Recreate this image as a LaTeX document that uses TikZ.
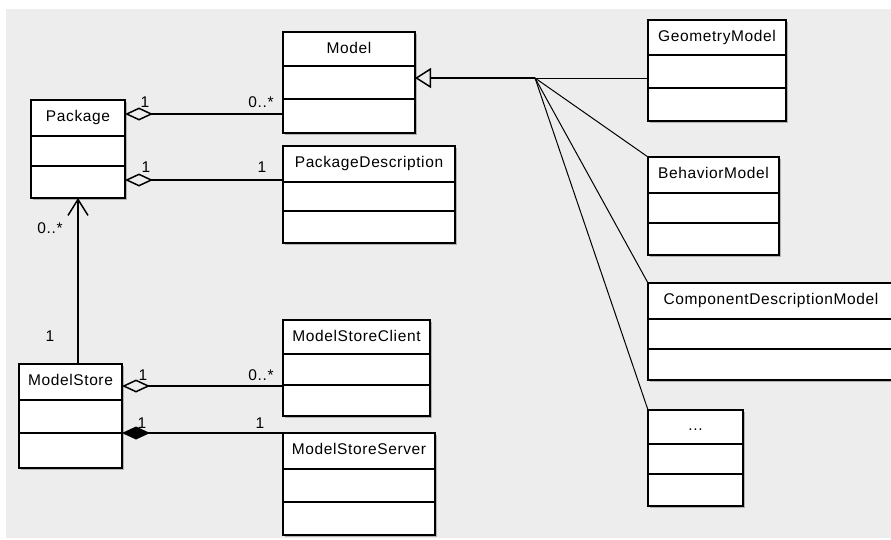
\documentclass[tikz,border=0pt]{standalone}
\usepackage{fontspec}
\setmainfont{Liberation Sans}[LetterSpace=4]
\usetikzlibrary{arrows.meta,shadows}
\definecolor{canvasgray}{HTML}{EDEDED}
\tikzset{
  classbox/.style={draw, line width=2pt, fill=white, inner sep=0pt, outer sep=0pt,
    anchor=north west, drop shadow={shadow xshift=2pt, shadow yshift=-2pt, fill=black!45, opacity=0.6}},
  divider/.style={line width=1.6pt},
  classname/.style={anchor=base, font=\fontsize{15.5}{18}\selectfont},
  mult/.style={anchor=base, font=\fontsize{15.5}{18}\selectfont},
  aggr/.style={line width=1.5pt, {Diamond[open, length=28pt, width=13pt]}-},
  comp/.style={line width=1.5pt, {Diamond[length=28pt, width=13pt]}-},
  navig/.style={line width=1.5pt, -{Straight Barb[length=16pt, width=20pt]}},
  inherit/.style={line width=1.5pt, {Triangle[open, length=16pt, width=20pt]}-},
  fan/.style={line width=1pt}
}
\begin{document}
\begin{tikzpicture}[x=1pt, y=-1pt]
        \clip (0,0) rectangle (891,539);
        \fill[canvasgray] (6,9) rectangle (891,538);
        %% Model
        \node[classbox, minimum width=132pt, minimum height=101pt] (Model) at (283,32) {};
        \draw[divider] ([yshift=-34pt]Model.north west) -- ([yshift=-34pt]Model.north east);
        \draw[divider] ([yshift=-67pt]Model.north west) -- ([yshift=-67pt]Model.north east);
        \node[classname] at ([yshift=-21pt]Model.north) {Model};
        %% Package
        \node[classbox, minimum width=94pt, minimum height=98pt] (Package) at (31,100) {};
        \draw[divider] ([yshift=-36pt]Package.north west) -- ([yshift=-36pt]Package.north east);
        \draw[divider] ([yshift=-66pt]Package.north west) -- ([yshift=-66pt]Package.north east);
        \node[classname] at ([yshift=-21pt]Package.north) {Package};
        %% PackageDescription
        \node[classbox, minimum width=172pt, minimum height=97pt] (PackageDescription) at (283,146) {};
        \draw[divider] ([yshift=-36pt]PackageDescription.north west) -- ([yshift=-36pt]PackageDescription.north east);
        \draw[divider] ([yshift=-65pt]PackageDescription.north west) -- ([yshift=-65pt]PackageDescription.north east);
        \node[classname] at ([yshift=-21pt]PackageDescription.north) {PackageDescription};
        %% GeometryModel
        \node[classbox, minimum width=138pt, minimum height=101pt] (GeometryModel) at (648,20) {};
        \draw[divider] ([yshift=-35pt]GeometryModel.north west) -- ([yshift=-35pt]GeometryModel.north east);
        \draw[divider] ([yshift=-68pt]GeometryModel.north west) -- ([yshift=-68pt]GeometryModel.north east);
        \node[classname] at ([yshift=-21pt]GeometryModel.north) {GeometryModel};
        %% BehaviorModel
        \node[classbox, minimum width=131pt, minimum height=98pt] (BehaviorModel) at (648,157) {};
        \draw[divider] ([yshift=-36pt]BehaviorModel.north west) -- ([yshift=-36pt]BehaviorModel.north east);
        \draw[divider] ([yshift=-66pt]BehaviorModel.north west) -- ([yshift=-66pt]BehaviorModel.north east);
        \node[classname] at ([yshift=-21pt]BehaviorModel.north) {BehaviorModel};
        %% ComponentDescriptionModel
        \node[classbox, minimum width=246pt, minimum height=97pt] (ComponentDescriptionModel) at (648,283) {};
        \draw[divider] ([yshift=-36pt]ComponentDescriptionModel.north west) -- ([yshift=-36pt]ComponentDescriptionModel.north east);
        \draw[divider] ([yshift=-66pt]ComponentDescriptionModel.north west) -- ([yshift=-66pt]ComponentDescriptionModel.north east);
        \node[classname] at ([yshift=-21pt]ComponentDescriptionModel.north) {ComponentDescriptionModel};
        %% Further models
        \node[classbox, minimum width=95pt, minimum height=96pt] (MoreModels) at (648,410) {};
        \draw[divider] ([yshift=-34pt]MoreModels.north west) -- ([yshift=-34pt]MoreModels.north east);
        \draw[divider] ([yshift=-64pt]MoreModels.north west) -- ([yshift=-64pt]MoreModels.north east);
        \node[classname] at ([yshift=-20pt]MoreModels.north) {...};
        %% ModelStoreClient
        \node[classbox, minimum width=147pt, minimum height=96pt] (ModelStoreClient) at (283,320) {};
        \draw[divider] ([yshift=-34pt]ModelStoreClient.north west) -- ([yshift=-34pt]ModelStoreClient.north east);
        \draw[divider] ([yshift=-65pt]ModelStoreClient.north west) -- ([yshift=-65pt]ModelStoreClient.north east);
        \node[classname] at ([yshift=-21pt]ModelStoreClient.north) {ModelStoreClient};
        %% ModelStore
        \node[classbox, minimum width=103pt, minimum height=104pt] (ModelStore) at (19,364) {};
        \draw[divider] ([yshift=-36pt]ModelStore.north west) -- ([yshift=-36pt]ModelStore.north east);
        \draw[divider] ([yshift=-69pt]ModelStore.north west) -- ([yshift=-69pt]ModelStore.north east);
        \node[classname] at ([yshift=-21pt]ModelStore.north) {ModelStore};
        %% ModelStoreServer
        \node[classbox, minimum width=152pt, minimum height=102pt] (ModelStoreServer) at (283,433) {};
        \draw[divider] ([yshift=-36pt]ModelStoreServer.north west) -- ([yshift=-36pt]ModelStoreServer.north east);
        \draw[divider] ([yshift=-69pt]ModelStoreServer.north west) -- ([yshift=-69pt]ModelStoreServer.north east);
        \node[classname] at ([yshift=-21pt]ModelStoreServer.north) {ModelStoreServer};
        %% Aggregations and composition
        \draw[aggr] (Package.east |- 0,114) -- (Model.west |- 0,114)
            node[mult, pos=0, xshift=20pt, yshift=7pt] {1}
            node[mult, pos=1, xshift=-22pt, yshift=7pt] {0..*};
        \draw[aggr] (Package.east |- 0,180) -- (PackageDescription.west |- 0,180)
            node[mult, pos=0, xshift=21pt, yshift=8pt] {1}
            node[mult, pos=1, xshift=-21pt, yshift=8pt] {1};
        \draw[aggr] (ModelStore.east |- 0,386) -- (ModelStoreClient.west |- 0,386)
            node[mult, pos=0, xshift=21pt, yshift=6pt] {1}
            node[mult, pos=1, xshift=-22pt, yshift=6pt] {0..*};
        \draw[comp] (ModelStore.east |- ModelStoreServer.north west) -- (ModelStoreServer.north west)
            node[mult, pos=0, xshift=20pt, yshift=5pt] {1}
            node[mult, pos=1, xshift=-23pt, yshift=5pt] {1};
        %% ModelStore -> Package
        \draw[navig] (ModelStore.north -| Package.south) -- (Package.south)
            node[mult, pos=0, xshift=-28pt, yshift=23pt] {1}
            node[mult, pos=1, xshift=-28pt, yshift=-35pt] {0..*};
        %% Generalization
        \coordinate (fork) at (535,78);
        \draw[inherit] (Model.east |- fork) -- (fork);
        \draw[fan] (fork) -- (GeometryModel.west |- fork);
        \draw[fan] (fork) -- (BehaviorModel.north west);
        \draw[fan] (fork) -- (ComponentDescriptionModel.north west);
        \draw[fan] (fork) -- (MoreModels.north west);
\end{tikzpicture}
\end{document}
